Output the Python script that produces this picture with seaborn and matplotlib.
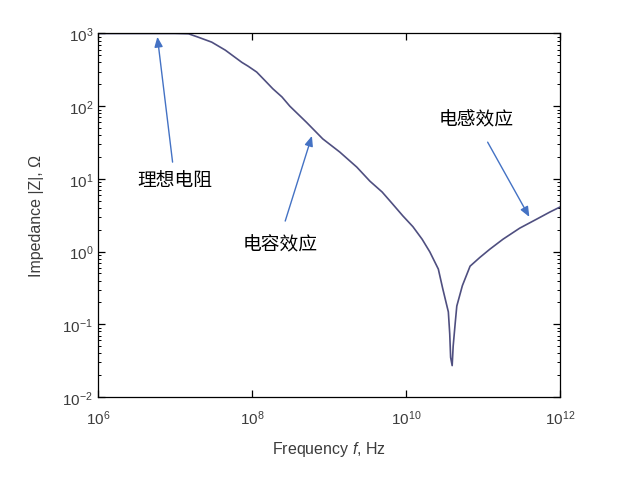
import matplotlib
matplotlib.use("Agg")
import matplotlib.pyplot as plt
import matplotlib.ticker as mticker
import pandas as pd
import seaborn as sns

# ---- data ----
freq_hz = [1.0e6, 3.2e6, 1.0e7, 1.5e7, 2.0e7, 3.0e7, 4.5e7, 7.4e7, 8.9e7, 1.15e8,
           1.48e8, 1.86e8, 2.45e8, 3.1e8, 5.1e8, 8.3e8, 1.38e9, 2.3e9, 3.4e9, 4.9e9,
           6.6e9, 9.1e9, 1.23e10, 1.62e10, 2.04e10, 2.63e10, 3.0e10, 3.55e10, 3.7e10,
           3.8e10, 3.98e10, 4.1e10, 4.37e10, 4.57e10, 5.4e10, 6.8e10, 9.1e10, 1.23e11,
           1.82e11, 3.0e11, 5.0e11, 7.4e11, 1.0e12]
impedance_ohm = [1000, 1000, 1000, 990, 890, 760, 590, 400, 355, 295,
                 224, 174, 134, 100, 60, 35.5, 23.4, 14.5, 9.3, 6.6,
                 4.6, 3.1, 2.2, 1.48, 0.99, 0.575, 0.31, 0.148, 0.074,
                 0.035, 0.027, 0.05, 0.107, 0.178, 0.34, 0.63, 0.83, 1.08,
                 1.48, 2.1, 2.8, 3.5, 4.1]

# annotations: (text, text position, arrow tail, arrow head) in data units
notes = [
    ("理想电阻", (9.8e6, 9.7), (9.3e6, 17.0), (5.9e6, 900)),
    ("电容效应", (2.3e8, 1.26), (2.7e8, 2.63), (6.0e8, 39.0)),
    ("电感效应", (8.1e10, 66.0), (1.15e11, 32.0), (4.0e11, 3.0)),
]

sns.set_style("ticks")
plt.rcParams["font.family"] = ["Liberation Sans", "DejaVu Sans"]
plt.rcParams["mathtext.fontset"] = "custom"
plt.rcParams["mathtext.rm"] = "Liberation Sans"
plt.rcParams["mathtext.it"] = "Liberation Sans:italic"

df = pd.DataFrame({"f": freq_hz, "Z": impedance_ohm})

fig = plt.figure(figsize=(6.18, 4.81), dpi=100)
ax = fig.add_axes([0.1586, 0.1726, 0.7475, 0.7557])

sns.lineplot(data=df, x="f", y="Z", ax=ax, color="#4f4f80", linewidth=1.2,
             sort=False, estimator=None)

ax.set_xscale("log")
ax.set_yscale("log")
ax.set_xlim(1e6, 1e12)
ax.set_ylim(1e-2, 1e3)

ax.xaxis.set_major_locator(mticker.FixedLocator([1e6, 1e8, 1e10, 1e12]))
ax.xaxis.set_minor_locator(mticker.NullLocator())
ax.yaxis.set_major_locator(mticker.LogLocator(base=10, numticks=10))
ax.yaxis.set_minor_locator(mticker.LogLocator(base=10, subs=range(2, 10), numticks=20))

ax.tick_params(which="both", direction="in", top=True, right=True,
               colors="black", labelcolor="#3c3c3c", labelsize=11)
ax.tick_params(which="major", length=5, width=0.9)
ax.tick_params(which="minor", length=2.5, width=0.7)
ax.tick_params(axis="x", pad=8)
for sp in ax.spines.values():
    sp.set_linewidth(0.9)
    sp.set_color("black")

ax.set_xlabel("Frequency $f$, Hz", fontsize=11.5, color="#3c3c3c", labelpad=9)
ax.set_ylabel("Impedance |Z|, Ω", fontsize=11.5, color="#3c3c3c", labelpad=13)

for label, txt_xy, tail, head in notes:
    ax.text(txt_xy[0], txt_xy[1], label, fontsize=13.5, color="black",
            ha="center", va="center", family=["Noto Sans CJK SC", "DejaVu Sans"])
    ax.annotate("", xy=head, xytext=tail,
                arrowprops=dict(arrowstyle="-|>,head_length=0.6,head_width=0.25",
                                color="#4472c4", lw=1.0, shrinkA=0, shrinkB=0))

fig.savefig("out.png", dpi=100)
